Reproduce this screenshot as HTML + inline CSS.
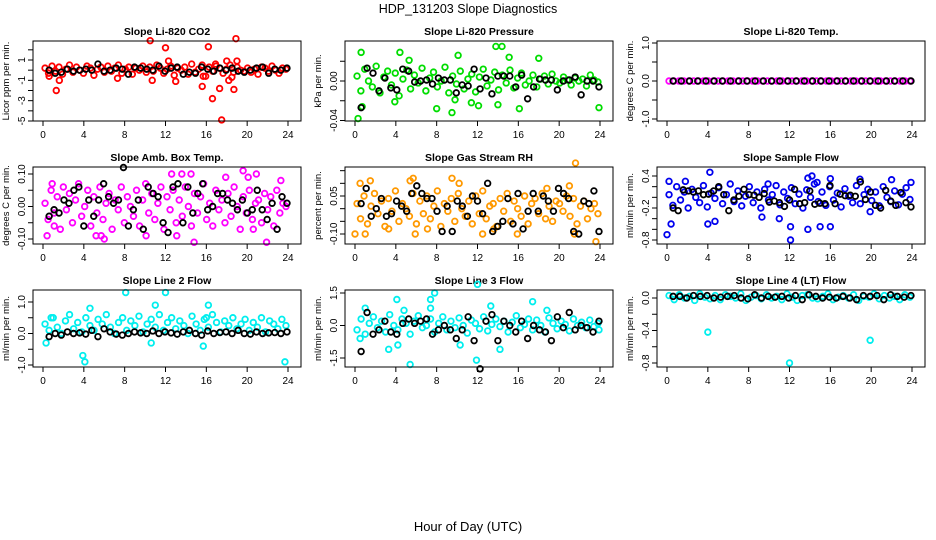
<!DOCTYPE html>
<html><head><meta charset="utf-8"><style>
body{margin:0;background:#fff;}
svg{display:block;font-family:"Liberation Sans",Arial,sans-serif;}
</style></head><body>
<svg id="chart" width="936" height="540" viewBox="0 0 936 540">
<rect width="936" height="540" fill="#fff"/>
<text x="468" y="13" text-anchor="middle" font-size="12.5">HDP_131203  Slope Diagnostics</text>
<text x="468" y="531" text-anchor="middle" font-size="13">Hour of Day (UTC)</text>
</svg>
<script>
const hourTicks=[0,4,8,12,16,20,24];
// CO2
const co2Vals=[0.2,-0.3,0.4,-0.1,0.3,-0.4,0.1,0.5,-0.2,0.3,0,-0.3,0.4,0.2,-0.5,0.1,0.3,-0.2,0.4,-0.1,0.2,0.5,-0.3,0.1,0.3,-0.4,0.2,0,0.4,-0.2,0.3,-0.1,0.5,0.2,-0.3,0.1,0.4,-0.5,0.2,0,0.3,-0.4,0.6,-0.2,0.1,0.5,-0.6,0.3,-0.1,0.4,0.2,-0.3,0.1,0.5,-0.2,0.3,0,-0.1,0.2,-0.2,0.1,-0.4,0.3,0.2,-0.1,0.4,0,-0.3,0.2,0.1];
const co2Out=[[1.3,-2],[1.6,-1],[0.6,-0.6],[7.3,-0.8],[10.5,2.9],[10.7,-1],[12,2.2],[12.3,0.9],[13,-1.1],[15.6,-1.6],[15.7,-0.6],[16.2,2.3],[16.6,-2.8],[17.3,-1.8],[17.5,-4.9],[18,0.9],[18.2,-1],[18.7,-1.9],[18.9,3.1],[19,0.9],[18.5,-0.7],[16.9,0.6]];
const co2Black=[0,-0.3,-0.2,0.1,-0.1,0,0.1,0,0.6,-0.1,0,0.2,0.1,-0.4,0.3,0.2,0.1,0,0.4,-0.1,0.2,0.3,-0.4,-0.2,-0.3,0.3,0.1,-0.1,0.2,0,0.2,-0.1,-0.2,0,0.2,0.3,-0.3,0.1,0,0.2];
// Pressure
const presVals=[0.005,-0.01,0.012,0,-0.006,0.015,-0.012,0.004,0.01,-0.004,0.008,-0.015,0.002,0.011,-0.008,0.006,-0.002,0.013,-0.01,0.003,0.009,-0.006,0,0.014,-0.012,0.005,-0.003,0.01,-0.008,0.002,0.007,-0.011,0.004,0.012,-0.005,0.001,0.009,-0.009,0.006,-0.002,0.011,-0.007,0.003,0.008,-0.004,0,0.006,-0.006,0.002,0.005,-0.003,0.007,0,-0.002,0.004,0.001,-0.004,0.003,0,0.002,-0.005,0.006,0.001,-0.001];
const presOut=[[0.6,0.029],[0.3,-0.038],[0.7,-0.026],[4.4,0.029],[3.9,-0.021],[8,-0.028],[9.5,-0.032],[10.1,0.026],[11.4,-0.022],[12.1,-0.025],[13.8,0.035],[14.4,0.035],[14,-0.024],[15.1,0.024],[16.1,-0.028],[18,0.023],[23.9,-0.027],[9.8,-0.019],[5.3,0.021]];
const presBlack=[-0.027,0.013,0.008,-0.01,0.003,-0.007,-0.009,0.012,0.01,-0.001,0,0.001,-0.003,0.003,0.001,0.001,-0.012,-0.004,-0.005,0.012,-0.008,0.003,-0.013,0.005,0.005,0.005,-0.006,0.006,-0.018,-0.006,0.002,0.001,0.001,-0.009,0,0.001,0.004,-0.014,0,0,-0.006];
// Temp
const tempVals=[0,0,0,0,0,0,0,0,0,0,0,0,0,0,0,0,0,0,0,0,0,0,0,0,0,0,0,0,0,0,0,0,0,0,0,0,0,0,0,0,0,0,0,0,0,0,0,0,0,0];
const tempOut=[];
const tempBlack=[0,0,0,0,0,0,0,0,0,0,0,0,0,0,0,0,0,0,0,0,0,0,0,0,0,0,0,0,0,0];
// Amb box temp
const ambVals=[0.01,-0.04,0.05,-0.02,0.03,-0.07,0.06,-0.01,0.04,-0.05,0.02,0.07,-0.03,0,0.05,-0.06,0.03,-0.02,0.06,-0.04,0.01,0.04,-0.07,0.02,-0.01,0.06,-0.05,0.03,0,-0.03,0.05,-0.06,0.02,0.07,-0.02,0.04,-0.04,0.01,0.06,-0.07,0.03,-0.01,0.05,-0.05,0.02,-0.03,0.06,0,-0.06,0.04,-0.02,0.03,0.07,-0.04,0.01,-0.06,0.05,-0.01,0.02,-0.05,0.04,-0.03,0.06,0,-0.07,0.03,-0.02,0.05,-0.04,0.01,0.02,-0.05,0.04,-0.01,0.03,-0.06,0.05,-0.02,0.01,0];
const ambOut=[[0.4,-0.09],[0.9,0.07],[1.1,-0.06],[5.2,-0.09],[5.7,-0.09],[6,-0.1],[10.1,-0.09],[12.6,0.1],[13.6,0.1],[14.5,0.1],[14.8,-0.11],[17.9,0.09],[19.6,0.11],[20.1,0.09],[20.9,0.1],[21.9,-0.11],[20.6,-0.07],[23.3,0.08],[13.1,-0.09]];
const ambBlack=[-0.03,-0.01,-0.02,0.02,0.01,0.05,0.06,-0.06,0.02,-0.03,0.02,0.07,0.03,0.01,0.02,0.12,-0.06,-0.01,0.02,-0.07,0.06,0.04,0.03,-0.05,-0.08,0.06,0.07,-0.05,0.06,-0.02,0.04,0.07,-0.01,0,0.04,0.04,0.02,0.01,-0.01,0.02,-0.02,-0.01,0.05,-0.01,-0.04,0.01,-0.07,0.03,0.01];
// RH
const rhVals=[0.02,-0.04,0.05,-0.06,0.01,0.06,-0.02,0.03,-0.07,0.04,-0.01,0.07,-0.05,0.02,0,-0.03,0.06,-0.06,0.03,-0.02,0.05,-0.04,0.01,0.07,-0.07,0.02,-0.01,0.04,-0.05,0.06,0,-0.03,0.03,-0.06,0.05,-0.02,0.07,-0.04,0.01,0.02,-0.07,0.04,-0.01,0.06,-0.05,0.03,0,-0.03,0.05,-0.06,0.02,0.04,-0.02,0.06,-0.04,0.01,-0.05,0.03,0.02,-0.01,0.05,-0.03,0.04,-0.06,0.01,0.03,-0.04,0,0.02,-0.02];
const rhOut=[[0,-0.1],[0.5,0.1],[1.5,0.11],[1,-0.1],[3.3,-0.08],[5.4,0.11],[5.7,0.12],[5.9,-0.1],[7.1,-0.08],[9.5,0.12],[10.2,0.1],[12.5,-0.1],[13.6,-0.08],[18.8,0.08],[21,0.09],[21.5,-0.1],[21.6,0.18],[23.6,-0.13],[15.9,-0.1]];
const rhBlack=[0.02,0.08,-0.03,0,0.04,-0.03,-0.02,0.03,0.01,-0.01,0.06,0.09,0.06,0.04,0.04,-0.01,-0.09,0.01,-0.09,0.03,0.01,-0.03,0.05,0.03,-0.02,0.1,-0.09,-0.07,-0.05,0.04,-0.06,0.06,-0.08,-0.01,0.06,-0.01,0.05,0.03,-0.01,0.08,0.06,0.04,-0.09,-0.1,0.03,0.02,0.07,-0.09];
// Sample flow
const sfVals=[0.05,-0.15,0.2,-0.05,0.1,-0.2,0.15,0,-0.1,0.22,-0.18,0.08,-0.02,0.18,-0.12,0.05,0.25,-0.08,0.12,-0.16,0.02,0.2,-0.1,0.1,-0.2,0.15,-0.05,0.05,0.22,-0.14,0.1,-0.02,0.18,-0.12,0.06,-0.2,0.14,0,0.25,-0.08,0.1,-0.15,0.2,-0.05,0.08,-0.18,0.16,0.02,-0.1,0.22,-0.12,0.05,0.15,-0.06,0.1,-0.16,0.2,0,-0.08,0.12,-0.14,0.06,0.18,-0.04];
const sfOut=[[0,-0.7],[0.4,-0.5],[0.2,0.3],[1.8,0.3],[4.2,0.47],[4,-0.5],[4.7,-0.45],[9.3,-0.37],[11,-0.4],[12.1,-0.8],[12.1,-0.55],[13.8,-0.6],[13.8,0.36],[14.2,0.4],[14.7,0.28],[15,-0.55],[16,0.35],[16,-0.55],[18.9,0.34],[19.9,-0.27],[22,0.33],[23.9,0.28],[9.9,0.25]];
const sfBlack=[-0.2,-0.25,0.14,0.12,0.1,0.12,0.05,0.06,0.12,0.2,0.05,-0.25,-0.05,0.02,0.15,0.05,0.04,0,0.07,-0.09,-0.07,-0.1,-0.17,-0.05,0.15,-0.12,-0.1,0.12,-0.13,-0.11,-0.12,0.22,-0.12,0.06,0.03,0.04,0.02,0.29,-0.04,0.1,-0.15,-0.2,0.13,-0.07,-0.15,0.09,-0.1,-0.18];
// Line 2
const l2Vals=[0.3,0.1,0.5,0.2,0,0.4,0.6,0.15,0.35,0.05,0.5,0.25,0.1,0.45,0.3,0.6,0.2,0,0.35,0.5,0.1,0.4,0.25,0.55,0.05,0.3,0.45,0.2,0.6,0.1,0.35,0.5,0.15,0.4,0.25,0,0.55,0.3,0.1,0.45,0.2,0.6,0.35,0.05,0.4,0.25,0.5,0.15,0.3,0.45,0.1,0.35,0.2,0.5,0.05,0.4,0.3,0.15,0.45,0.25];
const l2Out=[[0.3,-0.3],[0.8,0.5],[4.1,-0.9],[3.9,-0.7],[4.6,0.8],[8.1,1.3],[12,1.3],[11,0.9],[15.7,-0.4],[16,0.5],[23.7,-0.9],[16.2,0.9],[10.6,-0.3]];
const l2Black=[-0.1,0,-0.05,0.05,0,0.02,-0.02,0.1,-0.1,0.15,0.05,-0.02,-0.05,0,0.05,0.02,0,0.08,0,0.05,0.02,-0.02,0.05,0.1,0,-0.05,0.08,0,0.03,0.05,0,0.1,0,-0.02,0.05,0,0.02,0.03,0,0.05];
// Line 3
const l3Vals=[-0.2,0.3,-0.4,0.1,0.4,-0.1,0.2,-0.3,0.5,0,-0.2,0.3,0.1,-0.4,0.2,0.45,-0.1,0,0.3,-0.3,0.1,0.4,-0.2,0.2,-0.1,0.35,0,-0.35,0.25,0.1,-0.15,0.4,-0.25,0.05,0.3,-0.05,0.2,-0.3,0.15,0.45,-0.1,0.05,0.3,-0.2,0.25,0,-0.3,0.35,0.1,-0.15,0.2,0.05,-0.25,0.3,0,0.15,-0.1,0.25,-0.05,0.1];
const l3Out=[[0.5,-0.6],[1,0.8],[3.3,-1.1],[4.1,1.2],[4.2,-0.9],[5.4,-1.8],[7.4,1.2],[7.8,1.5],[7.4,0.8],[10.3,-0.9],[12,1.9],[14.2,-1.1],[13.3,0.9],[17.4,1.1],[18.8,0.7],[23.9,-0.2],[4.8,0.7],[11.9,-1.6]];
const l3Black=[-1.2,0.6,-0.4,-0.2,0.2,-0.3,-0.4,0.1,0.3,0.1,0.2,0.3,-0.4,-0.2,0,-0.2,-0.6,-0.2,0.4,-0.7,-2.0,0.2,0.5,-0.7,0.2,0,-0.3,0.2,-0.6,0,-0.2,-0.3,-0.7,0.4,-0.1,0.6,-0.2,0,-0.1,-0.3,0.2];
// Line 4
const l4Vals=[0.03,-0.02,0.04,0,0.02,-0.03,0.05,0.01,-0.01,0.03,-0.02,0.04,0.02,0,0.05,-0.03,0.01,0.03,-0.01,0.04,0,0.02,-0.02,0.05,0.01,-0.03,0.03,0.04,0,-0.01,0.02,0.05,-0.02,0.01,0.03,0,0.04,-0.03,0.02,0.01,0.05,-0.01,0.03,0,0.02,-0.02,0.04,0.01];
const l4Out=[[4,-0.42],[12,-0.8],[19.9,-0.52]];
const l4Black=[0.02,0.02,0,0.03,0.02,0.03,0,0.01,0.02,0.03,0,-0.01,0.04,0,0.02,0.01,0.02,0,0.03,-0.02,0.04,0.02,0,0.01,0,0.02,0,-0.02,0.03,0.02,0.03,-0.02,0.04,0.02,0.01,0.03];

const cols=[33,345,657];
const rows=[[41,121],[167,244],[290,367]];
const panels=[
 {t:'Slope Li-820 CO2',yl:'Licor ppm per min.',c:'#ff0000',v:co2Vals,o:co2Out,b:co2Black,s:[1,60,-5,121],ticks:[2,1,0,-1,-2,-3,-4,-5],labs:[[1,'1'],[-1,'-1'],[-3,'-3'],[-5,'-5']]},
 {t:'Slope Li-820 Pressure',yl:'kPa per min.',c:'#00dd00',v:presVals,o:presOut,b:presBlack,s:[0,81,-0.04,120.5],ticks:[0.02,0,-0.02,-0.04],labs:[[0,'0.00'],[-0.04,'-0.04']]},
 {t:'Slope Li-820 Temp.',yl:'degrees C per min.',c:'#ff00ff',v:tempVals,o:tempOut,b:tempBlack,s:[1,43,-1,119],ticks:[1,0.5,0,-0.5,-1],labs:[[1,'1.0'],[0,'0.0'],[-1,'-1.0']]},
 {t:'Slope Amb. Box Temp.',yl:'degrees C per min.',c:'#ff00ff',v:ambVals,o:ambOut,b:ambBlack,s:[0.1,174,-0.1,239],ticks:[0.1,0.05,0,-0.05,-0.1],labs:[[0.1,'0.10'],[0,'0.00'],[-0.1,'-0.10']]},
 {t:'Slope Gas Stream RH',yl:'percent per min.',c:'#ff9900',v:rhVals,o:rhOut,b:rhBlack,s:[0.05,196,-0.1,234],ticks:[0.15,0.1,0.05,0,-0.05,-0.1],labs:[[0.05,'0.05'],[-0.1,'-0.10']]},
 {t:'Slope Sample Flow',yl:'ml/min per min.',c:'#0000ee',v:sfVals,o:sfOut,b:sfBlack,s:[0.4,176,-0.8,240],ticks:[0.4,0.2,0,-0.2,-0.4,-0.6,-0.8],labs:[[0.4,'0.4'],[-0.2,'-0.2'],[-0.8,'-0.8']]},
 {t:'Slope Line 2 Flow',yl:'ml/min per min.',c:'#00eeee',v:l2Vals,o:l2Out,b:l2Black,s:[1,302,-1,365],ticks:[1,0.5,0,-0.5,-1],labs:[[1,'1.0'],[0,'0.0'],[-1,'-1.0']]},
 {t:'Slope Line 3 Flow',yl:'ml/min per min.',c:'#00eeee',v:l3Vals,o:l3Out,b:l3Black,s:[1.5,293,-1.5,358],ticks:[1.5,0,-1.5],labs:[[1.5,'1.5'],[0,'0.0'],[-1.5,'-1.5']]},
 {t:'Slope Line 4 (LT) Flow',yl:'ml/min per min.',c:'#00eeee',v:l4Vals,o:l4Out,b:l4Black,s:[0,298,-0.8,363],ticks:[0,-0.2,-0.4,-0.6,-0.8],labs:[[0,'0.0'],[-0.4,'-0.4'],[-0.8,'-0.8']]}
];
const NS='http://www.w3.org/2000/svg';
const svg=document.getElementById('chart');
function mk(tag,attrs,parent){const e=document.createElementNS(NS,tag);for(const k in attrs)e.setAttribute(k,attrs[k]);(parent||svg).appendChild(e);return e;}
panels.forEach((p,i)=>{
 const L=cols[i%3],R=L+268,T=rows[Math.floor(i/3)][0],B=rows[Math.floor(i/3)][1];
 const g=mk('g',{});
 
 
 const xS=h=>L+10+h*(245/24);
 const yS=v=>p.s[1]+(v-p.s[0])*(p.s[3]-p.s[1])/(p.s[2]-p.s[0]);
 const ti=mk('text',{x:(L+R)/2,y:T-6,'text-anchor':'middle','font-size':10.5,'font-weight':'bold'},g);ti.textContent=p.t;
 
 
 const yl=mk('text',{x:0,y:0,'text-anchor':'middle','font-size':9.5,transform:`translate(${L-24},${(T+B)/2}) rotate(-90)`},g);yl.textContent=p.yl;
 
 
 const n=p.v.length;
 p.v.forEach((v,k)=>{const c=mk('circle',{cx:xS(0.2+k*23.6/(n-1)),cy:yS(v),r:2.8,fill:'none',stroke:p.c,'stroke-width':1.8},g);
  
  });
 p.o.forEach(d=>{const c=mk('circle',{cx:xS(d[0]),cy:yS(d[1]),r:2.8,fill:'none',stroke:p.c,'stroke-width':1.8},g);
  
  });
 const m=p.b.length;
 p.b.forEach((v,k)=>{const c=mk('circle',{cx:xS(0.6+k*23.3/(m-1)),cy:yS(v),r:2.8,fill:'none',stroke:'#000','stroke-width':1.8},g);
  
  });
 const box=mk('rect',{x:L,y:T,width:R-L,height:B-T,fill:'none',stroke:'#000','stroke-width':1},g);
 
 
 hourTicks.forEach(h=>{mk('line',{x1:xS(h),x2:xS(h),y1:B,y2:B+5,stroke:'#000'},g);
  const t=mk('text',{x:xS(h),y:B+17,'text-anchor':'middle','font-size':10},g);t.textContent=h;
  
  });
 p.ticks.forEach(v=>mk('line',{x1:L-5,x2:L,y1:yS(v),y2:yS(v),stroke:'#000'},g));
 p.labs.forEach(l=>{const t=mk('text',{x:0,y:0,'text-anchor':'middle','font-size':10,transform:`translate(${L-8},${yS(l[0])}) rotate(-90)`},g);t.textContent=l[1];
  
  });
});
</script>
</body></html>
